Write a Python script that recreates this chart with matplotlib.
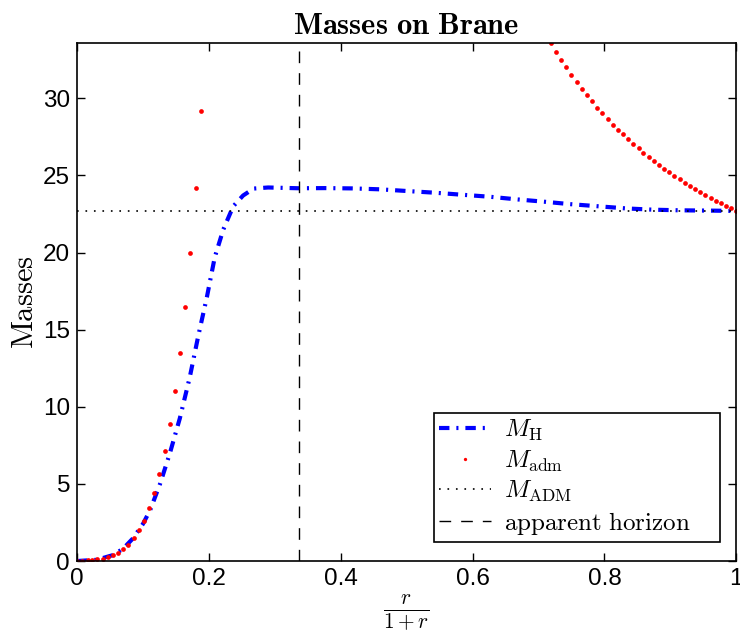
import matplotlib
matplotlib.use('Agg')
import matplotlib.pyplot as plt

plt.rcParams['mathtext.fontset'] = 'cm'
plt.rcParams['font.family'] = ['Liberation Sans', 'DejaVu Sans']
plt.rcParams['lines.scale_dashes'] = False

# M_H curve (blue dash-dot)
mh_x = [0.0, 0.03, 0.055, 0.07, 0.085, 0.1, 0.111, 0.126, 0.141, 0.156, 0.171, 0.184,
        0.197, 0.209, 0.222, 0.237, 0.252, 0.268, 0.29, 0.336, 0.376, 0.418, 0.46,
        0.501, 0.543, 0.584, 0.626, 0.667, 0.708, 0.748, 0.791, 0.834, 0.874, 0.915,
        0.96, 1.0]
mh_y = [0.0, 0.08, 0.39, 0.8, 1.47, 2.4, 3.3, 5.0, 7.0, 9.25, 11.9, 14.6,
        17.1, 19.7, 21.5, 23.0, 23.7, 24.15, 24.22, 24.17, 24.18, 24.16, 24.1,
        23.99, 23.88, 23.75, 23.62, 23.45, 23.3, 23.14, 23.0, 22.86, 22.78, 22.74,
        22.72, 22.7]

# M_adm points (red dots), inner and outer visible parts
adm_x_in = [0.0, 0.008, 0.016, 0.023, 0.031, 0.039, 0.047, 0.055, 0.063, 0.070,
            0.078, 0.086, 0.094, 0.102, 0.109, 0.117, 0.125, 0.133, 0.141, 0.148,
            0.156, 0.164, 0.172, 0.180, 0.188]
adm_y_in = [0.0, 0.02, 0.04, 0.05, 0.11, 0.15, 0.24, 0.37, 0.52, 0.76,
            1.06, 1.47, 1.99, 2.61, 3.43, 4.43, 5.64, 7.13, 8.9, 11.0,
            13.5, 16.5, 20.0, 24.2, 29.2]
adm_x_out = [0.719, 0.727, 0.734, 0.742, 0.750, 0.758, 0.766, 0.773, 0.781, 0.789,
             0.797, 0.805, 0.813, 0.820, 0.828, 0.836, 0.844, 0.852, 0.859, 0.867,
             0.875, 0.883, 0.891, 0.898, 0.906, 0.914, 0.922, 0.930, 0.938, 0.945,
             0.953, 0.961, 0.969, 0.977, 0.984, 0.992, 1.0]
adm_y_out = [33.6, 33.03, 32.5, 32.0, 31.5, 31.06, 30.6, 30.2, 29.8, 29.4,
             29.03, 28.66, 28.3, 27.97, 27.67, 27.35, 27.04, 26.76, 26.46, 26.2,
             25.94, 25.7, 25.45, 25.2, 24.97, 24.76, 24.54, 24.32, 24.13, 23.93,
             23.74, 23.54, 23.37, 23.2, 23.03, 22.88, 22.7]

M_ADM = 22.7
r_horizon = 0.337

fig = plt.figure(figsize=(7.4, 6.39), dpi=100)
ax = fig.add_axes([0.104, 0.122, 0.891, 0.811])

ax.plot(mh_x, mh_y, color='blue', lw=3, dashes=[7.5, 5, 1.5, 5], label=r'$M_\mathrm{H}$')
ax.plot(adm_x_in + adm_x_out, adm_y_in + adm_y_out, 'o', color='red', ms=3.4,
        mec='none', label=r'$M_\mathrm{adm}$')
ax.axhline(M_ADM, color='black', lw=1.2, dashes=(1.2, 4.9), label=r'$M_\mathrm{ADM}$')
ax.axvline(r_horizon, color='black', lw=1.0, dashes=(8.4, 7.2),
           label=r'$\mathrm{apparent\ horizon}$')

ax.set_xlim(0, 1)
ax.set_ylim(0, 33.6)
ax.set_xticks([0, 0.2, 0.4, 0.6, 0.8, 1])
ax.set_xticklabels(['0', '0.2', '0.4', '0.6', '0.8', '1'])
ax.set_yticks([0, 5, 10, 15, 20, 25, 30])
ax.tick_params(direction='in', length=6, width=1, top=True, right=True,
               labelsize=17.5, pad=5)
for s in ax.spines.values():
    s.set_linewidth(1.2)

ax.set_title(r'$\mathbf{Masses\ on\ Brane}$', fontsize=22, pad=6)
ax.set_ylabel(r'$\mathrm{Masses}$', fontsize=22, labelpad=2)
ax.set_xlabel(r'$\frac{r}{1+r}$', fontsize=22, labelpad=2)

# expanded legend box gives the extra space on the right like the original
leg = ax.legend(loc='lower left', bbox_to_anchor=(0.541, 0.037, 0.435, 0.254),
                mode='expand', fontsize=18, frameon=True, fancybox=False,
                edgecolor='black', framealpha=1, handlelength=2.1, handletextpad=0.5,
                borderpad=0.2, labelspacing=0.22, markerscale=0.7, borderaxespad=0)
leg.get_frame().set_linewidth(1.2)

fig.savefig('out.png', dpi=100)
